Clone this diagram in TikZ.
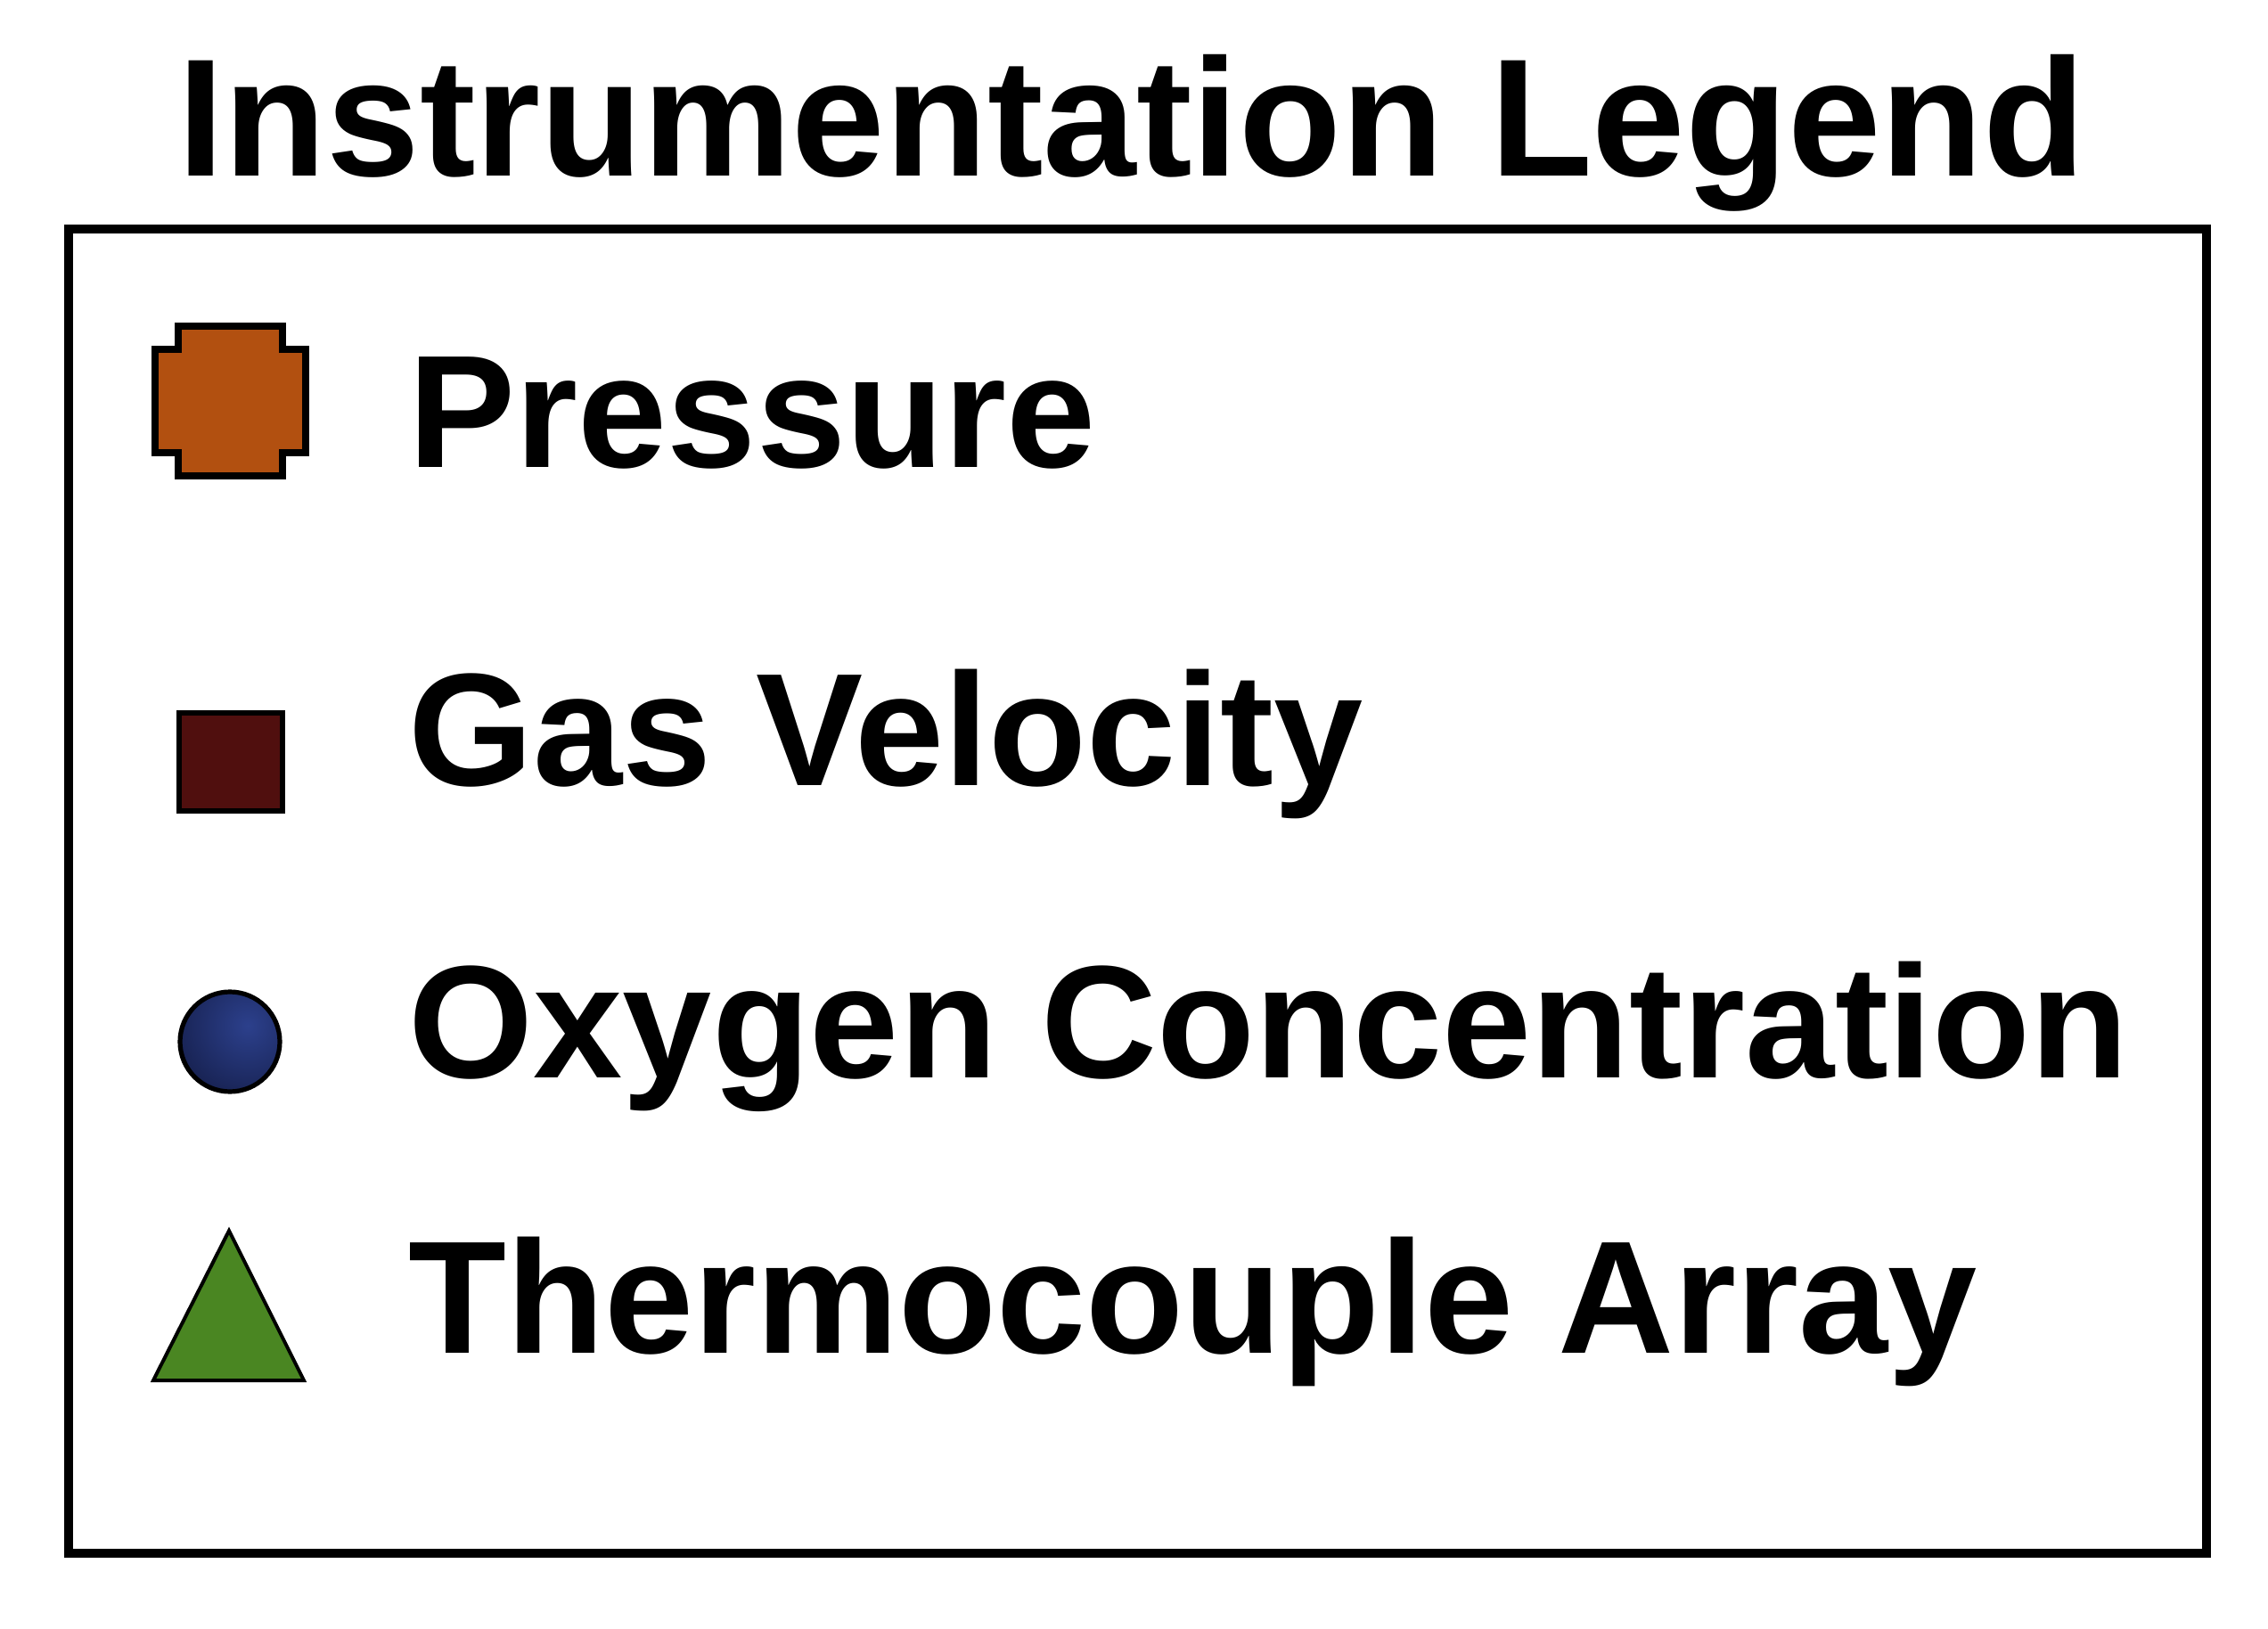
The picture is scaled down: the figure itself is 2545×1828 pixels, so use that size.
\documentclass[tikz,border=0pt]{standalone}
\usepackage{fontspec}
\setmainfont{Liberation Sans}
\usetikzlibrary{positioning}

\definecolor{pressorange}{RGB}{178,80,16}
\definecolor{velmaroon}{RGB}{80,15,14}
\definecolor{oxnavy}{RGB}{22,32,78}
\definecolor{oxnavylight}{RGB}{44,64,140}
\definecolor{tcgreen}{RGB}{74,134,34}

\tikzset{
    legendtext/.style={anchor=base west, inner sep=0pt, font=\fontsize{45pt}{51pt}\selectfont\bfseries},
    symbolline/.style={draw=black, line width=1.4pt, line join=miter}
}

\begin{document}
\begin{tikzpicture}[x=0.25pt,y=-0.25pt]
            \useasboundingbox (0,0) rectangle (2545,1828);

            \node[anchor=base, inner sep=0pt, font=\fontsize{47pt}{53pt}\selectfont\bfseries] (title) at (1270,198) {Instrumentation Legend};

            \coordinate (nw) at (77,257);
            \coordinate (se) at (2476,1743);
            \draw[line width=2.3pt] (nw) rectangle (se);

            % symbols
            \filldraw[symbolline, fill=pressorange, line width=2pt]
                (174,392) -- (200,392) -- (200,366) -- (317,366) -- (317,392) -- (343,392)
                -- (343,508) -- (317,508) -- (317,534) -- (200,534) -- (200,508) -- (174,508) -- cycle;

            \filldraw[symbolline, fill=velmaroon, line width=1.6pt] (201,800) rectangle (317,910);

            \coordinate (oxc) at (258,1169);
            \begin{scope}
                \clip (oxc) circle (56);
                \shade[inner color=oxnavylight, outer color=oxnavy] ([shift={(20,-18)}]oxc) circle (90);
            \end{scope}
            \draw[line width=1.3pt] (oxc) circle (56);

            \filldraw[symbolline, fill=tcgreen, line width=1pt] (257,1381) -- (341,1549) -- (172,1549) -- cycle;

            % labels
            \foreach \n/\y/\t in {press/525/Pressure, vel/881/Gas Velocity, oxy/1209/Oxygen Concentration, tc/1518/Thermocouple Array}{
                \node[legendtext] (\n) at (458,\y) {\t};
            }
\end{tikzpicture}
\end{document}
